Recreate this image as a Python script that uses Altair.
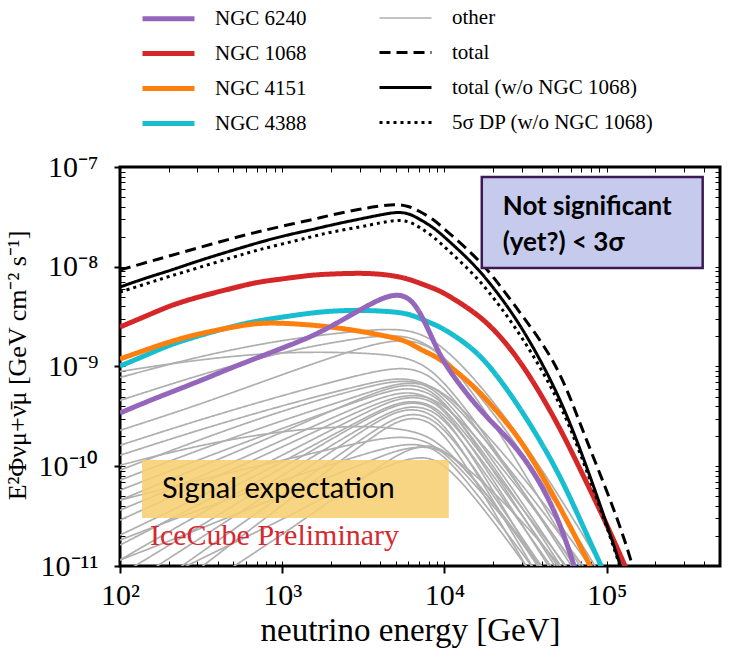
import altair as alt
import pandas as pd
import math

# ---------------- data ----------------
energy = [100, 150, 200, 300, 500, 700, 1000, 1500, 2000, 3000, 4000, 5000,
          6000, 7000, 8500, 10000, 15000, 20000, 30000, 50000, 70000, 100000,
          130000, 160000]

total = [9.27e-9, 1.12e-8, 1.28e-8, 1.54e-8, 1.94e-8, 2.23e-8, 2.56e-8, 2.94e-8,
         3.30e-8, 3.79e-8, 4.06e-8, 4.26e-8, 4.06e-8, 3.62e-8, 3.01e-8, 2.39e-8,
         1.34e-8, 8.07e-9, 3.28e-9, 1.06e-9, 2.42e-10, 5.78e-11, 1.82e-11, 5.7e-12]
total_wo = [6.26e-9, 7.89e-9, 9.06e-9, 1.14e-8, 1.47e-8, 1.73e-8, 2.03e-8, 2.34e-8,
            2.62e-8, 3.01e-8, 3.30e-8, 3.54e-8, 3.46e-8, 3.01e-8, 2.50e-8, 1.99e-8,
            1.09e-8, 6.26e-9, 2.55e-9, 5.55e-10, 1.39e-10, 2.70e-11, 7.2e-12]
dp5_wo = [5.58e-9, 6.87e-9, 7.98e-9, 9.71e-9, 1.25e-8, 1.47e-8, 1.69e-8, 1.99e-8,
          2.23e-8, 2.50e-8, 2.75e-8, 2.94e-8, 2.88e-8, 2.50e-8, 2.03e-8, 1.58e-8,
          8.65e-9, 4.97e-9, 2.02e-9, 4.94e-10, 1.27e-10, 2.52e-11, 7.0e-12]
ngc1068 = [2.49e-9, 3.28e-9, 4.04e-9, 4.97e-9, 6.12e-9, 7.03e-9, 7.54e-9, 8.27e-9,
           8.46e-9, 8.65e-9, 8.46e-9, 8.07e-9, 7.54e-9, 6.87e-9, 6.12e-9, 5.46e-9,
           3.60e-9, 2.43e-9, 1.11e-9, 2.71e-10, 8.75e-11, 2.64e-11, 1.0e-11, 4.56e-12]
ngc4388 = [1.01e-9, 1.33e-9, 1.64e-9, 2.02e-9, 2.55e-9, 2.86e-9, 3.13e-9, 3.44e-9,
           3.60e-9, 3.68e-9, 3.60e-9, 3.52e-9, 3.36e-9, 3.06e-9, 2.67e-9, 2.38e-9,
           1.53e-9, 9.22e-10, 3.66e-10, 9.17e-11, 2.70e-11, 7.6e-12]
ngc4151 = [1.19e-9, 1.50e-9, 1.76e-9, 2.12e-9, 2.49e-9, 2.73e-9, 2.73e-9, 2.61e-9,
           2.49e-9, 2.27e-9, 2.07e-9, 1.93e-9, 1.76e-9, 1.50e-9, 1.30e-9, 1.11e-9,
           6.53e-10, 3.93e-10, 1.83e-10, 4.29e-11, 1.51e-11, 4.6e-12]
ngc6240 = [3.42e-10, 4.51e-10, 5.42e-10, 7.0e-10, 9.89e-10, 1.22e-9, 1.53e-9, 1.98e-9,
           2.52e-9, 3.68e-9, 4.75e-9, 5.33e-9, 4.97e-9, 3.68e-9, 1.85e-9, 1.04e-9,
           4.41e-10, 2.65e-10, 1.39e-10, 3.48e-11, 5.7e-12]

# the many grey "other" sources (log10 of the flux)
other_energy = [100, 300, 1000, 3000, 5000, 7000, 10000, 20000, 50000, 100000]
other_log10_flux = [
    [-9.11, -8.90, -8.73, -8.64, -8.62, -8.66, -8.80, -9.32, -10.26, -11.09],
    [-9.34, -9.09, -8.85, -8.71, -8.68, -8.73, -8.89, -9.44, -10.39, -11.19],
    [-9.64, -9.39, -9.08, -8.81, -8.73, -8.75, -8.88, -9.54, -10.64, -11.44],
    [-9.05, -8.93, -8.85, -8.86, -8.89, -8.95, -9.14, -9.79, -10.79, -11.54],
    [-9.79, -9.54, -9.29, -9.08, -9.01, -9.03, -9.19, -9.84, -10.74, -11.49],
    [-9.89, -9.64, -9.39, -9.19, -9.11, -9.14, -9.26, -9.82, -10.64, -11.34],
    [-10.04, -9.74, -9.44, -9.22, -9.14, -9.15, -9.29, -9.94, -10.89, -11.64],
    [-10.14, -9.84, -9.54, -9.29, -9.17, -9.16, -9.24, -9.74, -10.54, -11.24],
    [-10.24, -9.94, -9.62, -9.34, -9.22, -9.22, -9.34, -9.99, -10.94, -11.74],
    [-10.34, -10.02, -9.66, -9.32, -9.19, -9.18, -9.32, -10.04, -11.04, -11.84],
    [-10.44, -10.12, -9.74, -9.39, -9.26, -9.26, -9.39, -10.04, -10.89, -11.54],
    [-10.54, -10.19, -9.81, -9.44, -9.30, -9.28, -9.36, -9.89, -10.74, -11.44],
    [-10.69, -10.32, -9.89, -9.49, -9.32, -9.30, -9.39, -10.14, -11.14, -11.94],
    [-10.79, -10.39, -9.96, -9.54, -9.36, -9.34, -9.44, -10.09, -10.99, -11.74],
    [-10.94, -10.49, -10.02, -9.56, -9.38, -9.35, -9.46, -10.24, -11.34, -12.14],
    [-11.09, -10.62, -10.09, -9.62, -9.42, -9.39, -9.49, -10.19, -11.09, -11.84],
    [-11.24, -10.74, -10.19, -9.66, -9.44, -9.42, -9.54, -10.34, -11.44, -12.24],
    [-11.44, -10.89, -10.29, -9.74, -9.50, -9.46, -9.59, -10.29, -11.24, -12.04],
    [-11.64, -11.04, -10.39, -9.80, -9.54, -9.50, -9.64, -10.44, -11.54, -12.35],
    [-9.99, -9.79, -9.64, -9.59, -9.62, -9.66, -9.79, -10.34, -11.24, -12.04],
    [-10.34, -10.14, -9.94, -9.76, -9.70, -9.72, -9.84, -10.39, -11.19, -11.94],
    [-10.74, -10.44, -10.14, -9.89, -9.79, -9.77, -9.86, -10.49, -11.34, -12.14],
    [-10.94, -10.64, -10.29, -9.99, -9.84, -9.80, -9.82, -10.24, -10.94, -11.64],
    [-11.34, -10.94, -10.54, -10.12, -9.96, -9.90, -9.94, -10.54, -11.44, -12.24],
    [-11.74, -11.24, -10.69, -10.14, -9.89, -9.79, -9.79, -10.34, -11.29, -12.14],
]

# legend is filled column by column
legend_order = ["NGC 6240", "NGC 1068", "NGC 4151", "NGC 4388",
                "other", "total", "total (w/o NGC 1068)", "5σ DP (w/o NGC 1068)"]
legend_colors = ["#9467bd", "#d62728", "#ff7f0e", "#17becf",
                 "#afafaf", "#000000", "#000000", "#000000"]
legend_dashes = [[1, 0], [1, 0], [1, 0], [1, 0], [1, 0], [11, 6], [1, 0], [3, 4]]
legend_widths = [5, 5, 5, 5, 1.7, 3, 3, 3]

x_tick_values = [1e2, 1e3, 1e4, 1e5]
x_tick_labels = ["10²", "10³", "10⁴", "10⁵"]
y_tick_values = [1e-11, 1e-10, 1e-9, 1e-8, 1e-7]
y_tick_labels = ["10⁻¹¹", "10⁻¹⁰", "10⁻⁹", "10⁻⁸", "10⁻⁷"]
x_minor = [m * d for d in [1e2, 1e3, 1e4, 1e5] for m in range(1, 10) if m * d <= 5e5]
y_minor = [m * d for d in [1e-11, 1e-10, 1e-9, 1e-8] for m in range(1, 10)] + [1e-7]

# annotation boxes (data coordinates)
box_sig = {"x": [1.70e4], "x2": [3.91e5], "y": [9.72e-9], "y2": [7.94e-8]}
box_sig_text = ["Not significant", "(yet?) < 3σ"]
box_sig_text_x = [2.29e4, 2.29e4]
box_sig_text_y = [3.97e-8, 1.73e-8]
box_exp = {"x": [136.6], "x2": [1.064e4], "y": [3.03e-11], "y2": [1.156e-10]}
box_exp_text = ["Signal expectation"]
box_exp_text_x = [181.5]
box_exp_text_y = [5.91e-11]
prelim_text = ["IceCube Preliminary"]
prelim_x = [153]
prelim_y = [1.63e-11]

# ---------------- build tables ----------------
main_series = [("NGC 1068", ngc1068), ("NGC 4388", ngc4388), ("NGC 4151", ngc4151),
               ("NGC 6240", ngc6240)]
black_series = [("total", total), ("total (w/o NGC 1068)", total_wo),
                ("5σ DP (w/o NGC 1068)", dp5_wo)]


def table(series):
    rows = []
    for name, vals in series:
        for e, f in zip(energy, vals):
            rows.append({"energy": e, "flux": f, "series": name, "curve": name})
    return pd.DataFrame(rows)


grey_rows = []
for i, vals in enumerate(other_log10_flux):
    for e, lv in zip(other_energy, vals):
        grey_rows.append({"energy": e, "flux": 10 ** lv, "series": "other", "curve": f"o{i}"})
grey_df = pd.DataFrame(grey_rows)
main_df = table(main_series)
black_df = table(black_series)

serif = "Liberation Serif"


def label_expr(values, labels):
    expr = "''"
    for v, lab in reversed(list(zip(values, labels))):
        expr = f"abs(log(datum.value)/LN10 - ({math.log10(v)})) < 0.01 ? '{lab}' : " + expr
    return expr


xscale = alt.Scale(type="log", domain=[1e2, 5e5], nice=False)
yscale = alt.Scale(type="log", domain=[1e-11, 1e-7], nice=False)

legend = alt.Legend(
    title=None, orient="none", legendX=22, legendY=-161, columns=2,
    symbolType="M-2.6,0L2.6,0", symbolSize=400, symbolOffset=14,
    labelOffset=34, labelFont=serif, labelFontSize=21, labelColor="black",
    rowPadding=12, columnPadding=66, labelLimit=400,
)
color_enc = alt.Color("series:N", scale=alt.Scale(domain=legend_order, range=legend_colors), legend=legend)
dash_enc = alt.StrokeDash("series:N", scale=alt.Scale(domain=legend_order, range=legend_dashes), legend=legend)
width_enc = alt.StrokeWidth("series:N", scale=alt.Scale(type="ordinal", domain=legend_order, range=legend_widths),
                            legend=legend)

x_main_axis = alt.Axis(
    orient="bottom", values=x_tick_values, labelExpr=label_expr(x_tick_values, x_tick_labels),
    title="neutrino energy [GeV]", titleFont=serif, titleFontSize=33, titleFontWeight="normal",
    titleColor="black", titleX=290, titleAlign="center", titlePadding=4,
    labelFont=serif, labelFontSize=30, labelColor="black", labelPadding=7,
    tickSize=7, tickWidth=2, tickColor="black", domain=False, grid=False, labelFlush=False,
)
y_main_axis = alt.Axis(
    orient="left", values=y_tick_values, labelExpr=label_expr(y_tick_values, y_tick_labels),
    title="E²Φνμ+ν̄μ [GeV cm⁻² s⁻¹]", titleFont=serif, titleFontSize=26,
    titleFontWeight="normal", titleColor="black", titleX=-95, titleY=198,
    titleAngle=270, titleAlign="center", titleBaseline="alphabetic",
    labelFont=serif, labelFontSize=30, labelColor="black", labelPadding=16,
    tickSize=6, tickWidth=2, tickColor="black", domain=False, grid=False, labelFlush=False,
)
x_in_axis = alt.Axis(orient="bottom", values=x_minor, labels=False, title=None, offset=-5,
                     tickSize=5, tickWidth=1, tickColor="black", domain=False, grid=False)
y_in_axis = alt.Axis(orient="left", values=y_minor, labels=False, title=None, offset=-5,
                     tickSize=5, tickWidth=1, tickColor="black", domain=False, grid=False)
x_top_axis = alt.Axis(orient="top", values=x_minor, labels=False, title=None, offset=-5,
                      tickSize=5, tickWidth=1, tickColor="black", domain=False, grid=False)
y_right_axis = alt.Axis(orient="right", values=y_minor, labels=False, title=None, offset=-5,
                        tickSize=5, tickWidth=1, tickColor="black", domain=False, grid=False)

grey = alt.Chart(grey_df).mark_line(clip=True, interpolate="basis").encode(
    x=alt.X("energy:Q", scale=xscale, axis=x_main_axis),
    y=alt.Y("flux:Q", scale=yscale, axis=y_main_axis),
    color=color_enc, strokeDash=dash_enc, strokeWidth=width_enc, detail="curve:N",
)
colored = alt.Chart(main_df).mark_line(clip=True, interpolate="basis").encode(
    x=alt.X("energy:Q", scale=xscale, axis=x_in_axis),
    y=alt.Y("flux:Q", scale=yscale, axis=y_in_axis),
    color=color_enc, strokeDash=dash_enc, strokeWidth=width_enc, detail="curve:N",
)
black = alt.Chart(black_df).mark_line(clip=True, interpolate="basis", strokeCap="butt").encode(
    x=alt.X("energy:Q", scale=xscale, axis=x_top_axis),
    y=alt.Y("flux:Q", scale=yscale, axis=y_right_axis),
    color=color_enc, strokeDash=dash_enc, strokeWidth=width_enc, detail="curve:N",
)

rect_sig = alt.Chart(pd.DataFrame(box_sig)).mark_rect(
    fill="#c6cbee", stroke="#3d1a55", strokeWidth=2.5
).encode(x=alt.X("x:Q", scale=xscale, axis=None), x2="x2:Q",
         y=alt.Y("y:Q", scale=yscale, axis=None), y2="y2:Q")
text_sig = alt.Chart(pd.DataFrame({"t": box_sig_text, "x": box_sig_text_x, "y": box_sig_text_y})).mark_text(
    align="left", baseline="middle", font="Lato", fontWeight="bold", fontSize=26, color="black"
).encode(x=alt.X("x:Q", scale=xscale, axis=None), y=alt.Y("y:Q", scale=yscale, axis=None), text="t:N")

rect_exp = alt.Chart(pd.DataFrame(box_exp)).mark_rect(
    fill="#f7cf72", opacity=0.88
).encode(x=alt.X("x:Q", scale=xscale, axis=None), x2="x2:Q",
         y=alt.Y("y:Q", scale=yscale, axis=None), y2="y2:Q")
text_exp = alt.Chart(pd.DataFrame({"t": box_exp_text, "x": box_exp_text_x, "y": box_exp_text_y})).mark_text(
    align="left", baseline="middle", font="Lato", fontSize=29, color="black"
).encode(x=alt.X("x:Q", scale=xscale, axis=None), y=alt.Y("y:Q", scale=yscale, axis=None), text="t:N")
text_pre = alt.Chart(pd.DataFrame({"t": prelim_text, "x": prelim_x, "y": prelim_y})).mark_text(
    align="left", baseline="alphabetic", font=serif, fontSize=30, color="#d7282f"
).encode(x=alt.X("x:Q", scale=xscale, axis=None), y=alt.Y("y:Q", scale=yscale, axis=None), text="t:N")

chart = alt.layer(
    grey, colored, black, rect_sig, text_sig, rect_exp, text_exp, text_pre
).resolve_axis(x="independent", y="independent").properties(
    width=600, height=399,
    padding={"left": 120, "top": 167, "right": 9, "bottom": 92},
    autosize=alt.AutoSizeParams(type="none"),
    background="white",
).configure_view(stroke="black", strokeWidth=3).configure_axis(
    labelFont=serif, titleFont=serif
).configure_legend(labelFont=serif, labelFontSize=21, labelColor="black")

chart.save("out.html", embed_options={"renderer": "svg", "actions": False})
